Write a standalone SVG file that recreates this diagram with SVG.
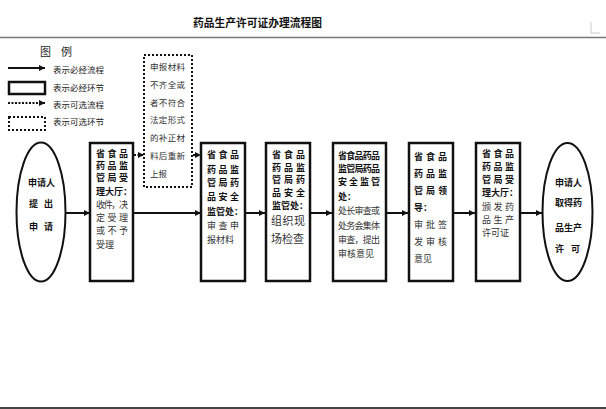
<svg xmlns="http://www.w3.org/2000/svg" width="606" height="409" viewBox="0 0 606 409">
<defs>
<style>
text{font-family:"Noto Sans CJK SC","Noto Sans CJK JP",sans-serif;font-size:9px;fill:#222}
.h{font-weight:bold;fill:#111}
.b{fill:#333}
.t{font-size:11px;font-weight:bold;fill:#111}
.lg{font-size:8.5px;fill:#222}
.s{font-size:8.5px;fill:#333}
.node{fill:#fff;stroke:#111;stroke-width:2.5}
.opt{fill:#fff;stroke:#111;stroke-width:2;stroke-dasharray:2 2}
.ell{fill:#fff;stroke:#111;stroke-width:2}
.c{stroke:#111;stroke-width:2;fill:none}
.d{stroke:#111;stroke-width:2;fill:none;stroke-dasharray:2 1.5}
</style>
<marker id="ah" viewBox="0 0 8 8" refX="8" refY="4" markerWidth="7" markerHeight="6" markerUnits="userSpaceOnUse" orient="auto">
<path d="M0,0 L8,4 L0,8 Z" fill="#111"/>
</marker>
</defs>
<rect width="606" height="409" fill="#fff"/>
<text class="t" x="193" y="27" textLength="129" lengthAdjust="spacingAndGlyphs">药品生产许可证办理流程图</text>
<line x1="0" y1="37.5" x2="606" y2="37.5" stroke="#777" stroke-width="1.5"/>
<path d="M591,22 V33 H600" stroke="#ccc" stroke-width="1" fill="none"/>
<line x1="0" y1="408" x2="606" y2="408" stroke="#444" stroke-width="2"/>

<g id="legend">
<text x="40" y="56" style="font-size:11px" textLength="32" lengthAdjust="spacing">图例</text>
<line x1="8" y1="68" x2="45" y2="68" class="c" marker-end="url(#ah)"/>
<text class="lg" x="53" y="73">表示必经流程</text>
<rect x="9" y="82" width="36" height="12" class="node" stroke-width="2"/>
<text class="lg" x="53" y="91">表示必经环节</text>
<line x1="8" y1="103" x2="45" y2="103" class="d" marker-end="url(#ah)"/>
<text class="lg" x="53" y="108">表示可选流程</text>
<rect x="9" y="117" width="36" height="13" class="opt"/>
<text class="lg" x="53" y="125">表示可选环节</text>
</g>

<g id="connectors">
<line x1="66" y1="213" x2="90" y2="213" class="c" marker-end="url(#ah)"/>
<line x1="134" y1="213" x2="201" y2="213" class="c" marker-end="url(#ah)"/>
<line x1="246" y1="213" x2="265" y2="213" class="c" marker-end="url(#ah)"/>
<line x1="311" y1="213" x2="332" y2="213" class="c" marker-end="url(#ah)"/>
<line x1="387" y1="213" x2="408" y2="213" class="c" marker-end="url(#ah)"/>
<line x1="454" y1="213" x2="475" y2="213" class="c" marker-end="url(#ah)"/>
<line x1="521" y1="213" x2="542" y2="213" class="c" marker-end="url(#ah)"/>
<line x1="134" y1="155" x2="144" y2="155" class="d" marker-end="url(#ah)"/>
<line x1="193" y1="155" x2="201" y2="155" class="d" marker-end="url(#ah)"/>
</g>

<g id="n-supplement">
<rect x="144" y="55" width="48" height="132" class="opt"/>
<text x="150" y="70" class="s" textLength="35" lengthAdjust="spacing">申报材料</text>
<text x="150" y="88" class="s" textLength="35" lengthAdjust="spacing">不齐全或</text>
<text x="150" y="106" class="s" textLength="35" lengthAdjust="spacing">者不符合</text>
<text x="150" y="123" class="s" textLength="35" lengthAdjust="spacing">法定形式</text>
<text x="150" y="141" class="s" textLength="35" lengthAdjust="spacing">的补正材</text>
<text x="150" y="159" class="s" textLength="35" lengthAdjust="spacing">料后重新</text>
<text x="150" y="177" class="s">上报</text>
</g>

<g id="n-start">
<ellipse cx="41" cy="212" rx="24.5" ry="69.5" class="ell"/>
<text class="h" x="28" y="185.5">申请人</text>
<text class="h" x="29" y="206.5" textLength="24" lengthAdjust="spacing">提出</text>
<text class="h" x="29" y="229.5" textLength="24" lengthAdjust="spacing">申请</text>
</g>

<g id="n-accept">
<rect x="90" y="143" width="43" height="138" class="node"/>
<text class="h" x="96" y="157" textLength="32" lengthAdjust="spacing">省食品</text>
<text class="h" x="96" y="169" textLength="32" lengthAdjust="spacing">药品监</text>
<text class="h" x="96" y="181" textLength="32" lengthAdjust="spacing">管局受</text>
<text class="h" x="96" y="194.5">理大厅：</text>
<text class="b" x="96" y="207.5" textLength="32" lengthAdjust="spacing">收件，决</text>
<text class="b" x="96" y="221" textLength="32" lengthAdjust="spacing">定受理</text>
<text class="b" x="96" y="234" textLength="32" lengthAdjust="spacing">或不予</text>
<text class="b" x="96" y="247.5">受理</text>
</g>

<g id="n-review">
<rect x="201" y="143" width="44" height="138" class="node"/>
<text class="h" x="207" y="157.5" textLength="32" lengthAdjust="spacing">省食品</text>
<text class="h" x="207" y="172.5" textLength="32" lengthAdjust="spacing">药品监</text>
<text class="h" x="207" y="186" textLength="32" lengthAdjust="spacing">管局药</text>
<text class="h" x="207" y="200" textLength="32" lengthAdjust="spacing">品安全</text>
<text class="h" x="207" y="214.5">监管处：</text>
<text class="b" x="207" y="228.5" textLength="32" lengthAdjust="spacing">审查申</text>
<text class="b" x="207" y="242.5">报材料</text>
</g>

<g id="n-inspect">
<rect x="266" y="143" width="44" height="138" class="node"/>
<text class="h" x="272" y="158" textLength="33" lengthAdjust="spacing">省食品</text>
<text class="h" x="272" y="170.5" textLength="33" lengthAdjust="spacing">药品监</text>
<text class="h" x="272" y="183" textLength="33" lengthAdjust="spacing">管局药</text>
<text class="h" x="272" y="195.5" textLength="33" lengthAdjust="spacing">品安全</text>
<text class="h" x="272" y="208.5">监管处：</text>
<text class="b" x="271" y="225" style="font-size:11px" textLength="34" lengthAdjust="spacing">组织现</text>
<text class="b" x="271" y="242.5" style="font-size:11px">场检查</text>
</g>

<g id="n-opinion">
<rect x="333" y="143" width="53" height="138" class="node"/>
<text class="h" x="338" y="158.5" textLength="42" lengthAdjust="spacing">省食品药品</text>
<text class="h" x="338" y="171.5" textLength="42" lengthAdjust="spacing">监管局药品</text>
<text class="h" x="338" y="185" textLength="42" lengthAdjust="spacing">安全监管</text>
<text class="h" x="338" y="200">处：</text>
<text class="b" x="338" y="214" textLength="42" lengthAdjust="spacing">处长审查或</text>
<text class="b" x="338" y="228.5" textLength="42" lengthAdjust="spacing">处务会集体</text>
<text class="b" x="338" y="242.5" textLength="42" lengthAdjust="spacing">审查，提出</text>
<text class="b" x="338" y="256.5">审核意见</text>
</g>

<g id="n-approve">
<rect x="409" y="143" width="44" height="138" class="node"/>
<text class="h" x="414" y="159.5" textLength="33" lengthAdjust="spacing">省食品</text>
<text class="h" x="414" y="176.5" textLength="33" lengthAdjust="spacing">药品监</text>
<text class="h" x="414" y="193.5" textLength="33" lengthAdjust="spacing">管局领</text>
<text class="h" x="414" y="210.5">导：</text>
<text class="b" x="414" y="227.5" textLength="33" lengthAdjust="spacing">审批签</text>
<text class="b" x="414" y="244.5" textLength="33" lengthAdjust="spacing">发审核</text>
<text class="b" x="414" y="261.5">意见</text>
</g>

<g id="n-issue">
<rect x="476" y="143" width="44" height="138" class="node"/>
<text class="h" x="482" y="157" textLength="32" lengthAdjust="spacing">省食品</text>
<text class="h" x="482" y="169.5" textLength="32" lengthAdjust="spacing">药品监</text>
<text class="h" x="482" y="182.5" textLength="32" lengthAdjust="spacing">管局受</text>
<text class="h" x="482" y="195.5">理大厅：</text>
<text class="b" x="482" y="209.5" textLength="32" lengthAdjust="spacing">颁发药</text>
<text class="b" x="482" y="222.5" textLength="32" lengthAdjust="spacing">品生产</text>
<text class="b" x="482" y="235.5">许可证</text>
</g>

<g id="n-end">
<ellipse cx="567.5" cy="212" rx="25" ry="69" class="ell"/>
<text class="h" x="555" y="185.5">申请人</text>
<text class="h" x="555" y="205.5">取得药</text>
<text class="h" x="555" y="230.5">品生产</text>
<text class="h" x="555" y="251.5" textLength="25" lengthAdjust="spacing">许可</text>
</g>
</svg>
